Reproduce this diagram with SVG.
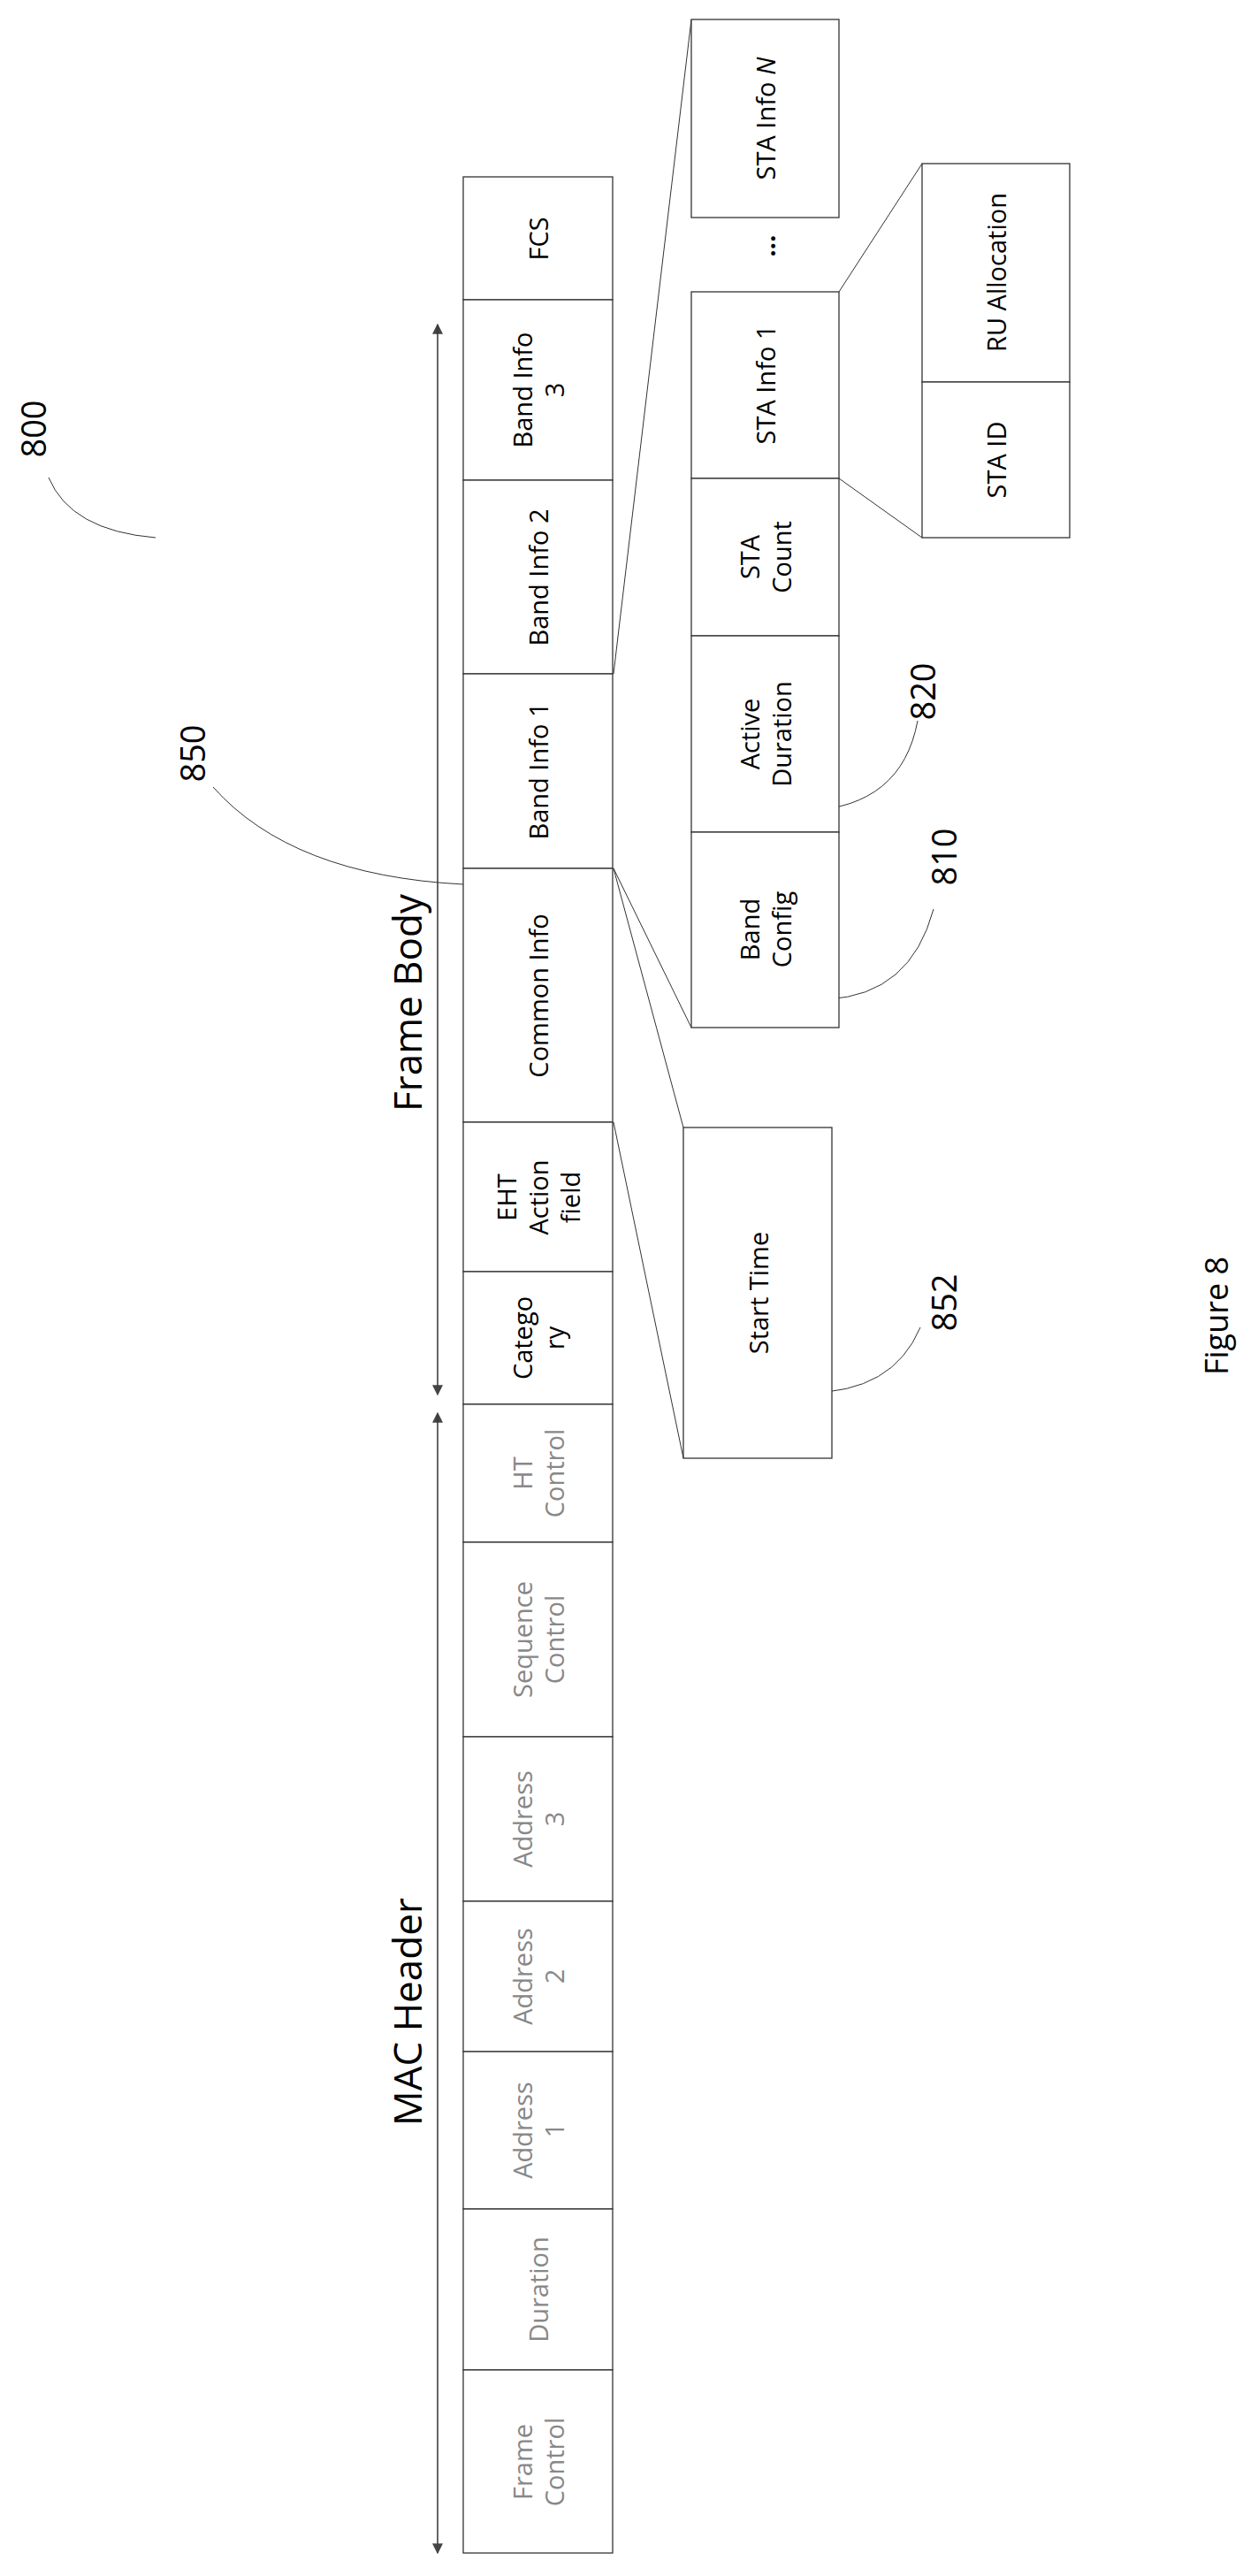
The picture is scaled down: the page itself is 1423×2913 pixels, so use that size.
<svg xmlns="http://www.w3.org/2000/svg" width="1423" height="2913" viewBox="0 0 1423 2913">
<style>
rect.c{fill:#fff;stroke:#333;stroke-width:1.3}
line.l,path.l{fill:none;stroke:#333;stroke-width:1}
text{font-family:"Open Sans","Liberation Sans",sans-serif;text-anchor:middle;dominant-baseline:central}
.f{font-size:29px;fill:#000}
.g{font-size:29px;fill:#888}
.big{font-size:44px;fill:#000}
.num{font-size:38px;fill:#000}
</style>
<defs>
<marker id="ah" viewBox="0 0 10 10" refX="9" refY="5" markerWidth="12" markerHeight="12" markerUnits="userSpaceOnUse" orient="auto"><path d="M0,0 L10,5 L0,10 z" fill="#444"/></marker>
</defs>
<rect width="1423" height="2913" fill="#fff"/>
<g id="connectors">
<line class="l" x1="495" y1="1575" x2="495" y2="367" marker-end="url(#ah)"/>
<line class="l" x1="495" y1="367" x2="495" y2="1577" marker-end="url(#ah)"/>
<line class="l" x1="495" y1="2887" x2="495" y2="1598" marker-end="url(#ah)"/>
<line class="l" x1="495" y1="1600" x2="495" y2="2887" marker-end="url(#ah)"/>
<line class="l" x1="694" y1="762" x2="782" y2="22"/>
<line class="l" x1="694" y1="982" x2="782" y2="1162"/>
<line class="l" x1="949" y1="330" x2="1043" y2="185"/>
<line class="l" x1="949" y1="541" x2="1043" y2="608"/>
<line class="l" x1="694" y1="982" x2="773" y2="1275"/>
<line class="l" x1="694" y1="1269" x2="773" y2="1649"/>
<path class="l" d="M55,540 Q80,600 176,608"/>
<path class="l" d="M241,890 Q330,990 524,1000"/>
<path class="l" d="M1041,1501 Q1010,1575 913,1575"/>
<path class="l" d="M1056,1028 Q1030,1125 936,1130"/>
<path class="l" d="M1038,815 Q1020,912 913,917"/>
</g>
<g id="labels">
<text class="big" transform="rotate(-90 460 1134)" x="460" y="1134">Frame Body</text>
<text class="big" transform="rotate(-90 460 2275)" x="460" y="2275">MAC Header</text>
<text class="num" transform="rotate(-90 37 485)" x="37" y="485">800</text>
<text class="num" transform="rotate(-90 217 852)" x="217" y="852">850</text>
<text class="num" transform="rotate(-90 1067 1473)" x="1067" y="1473">852</text>
<text class="num" transform="rotate(-90 1067 969)" x="1067" y="969">810</text>
<text class="num" transform="rotate(-90 1043 782)" x="1043" y="782">820</text>
<text class="big" style="font-size:36px" transform="rotate(-90 1375 1488)" x="1375" y="1488">Figure 8</text>
</g>
<g id="fcs"><rect class="c" x="524" y="200" width="169" height="139"/><text class="f" transform="rotate(-90 608 270)" x="608" y="270">FCS</text></g>
<g id="bi3"><rect class="c" x="524" y="339" width="169" height="204"/><text class="f" transform="rotate(-90 608 441)" x="608" y="441"><tspan x="608" dy="-18">Band Info</tspan><tspan x="608" dy="36">3</tspan></text></g>
<g id="bi2"><rect class="c" x="524" y="543" width="169" height="219"/><text class="f" transform="rotate(-90 608 653)" x="608" y="653">Band Info 2</text></g>
<g id="bi1"><rect class="c" x="524" y="762" width="169" height="220"/><text class="f" transform="rotate(-90 608 872)" x="608" y="872">Band Info 1</text></g>
<g id="ci"><rect class="c" x="524" y="982" width="169" height="287"/><text class="f" transform="rotate(-90 608 1126)" x="608" y="1126">Common Info</text></g>
<g id="eht"><rect class="c" x="524" y="1269" width="169" height="169"/><text class="f" transform="rotate(-90 608 1354)" x="608" y="1354"><tspan x="608" dy="-36">EHT</tspan><tspan x="608" dy="36">Action</tspan><tspan x="608" dy="36">field</tspan></text></g>
<g id="cat"><rect class="c" x="524" y="1438" width="169" height="150"/><text class="f" transform="rotate(-90 608 1513)" x="608" y="1513"><tspan x="608" dy="-18">Catego</tspan><tspan x="608" dy="36">ry</tspan></text></g>
<g id="ht"><rect class="c" x="524" y="1588" width="169" height="156"/><text class="g" transform="rotate(-90 608 1666)" x="608" y="1666"><tspan x="608" dy="-18">HT</tspan><tspan x="608" dy="36">Control</tspan></text></g>
<g id="seq"><rect class="c" x="524" y="1744" width="169" height="220"/><text class="g" transform="rotate(-90 608 1854)" x="608" y="1854"><tspan x="608" dy="-18">Sequence</tspan><tspan x="608" dy="36">Control</tspan></text></g>
<g id="a3"><rect class="c" x="524" y="1964" width="169" height="186"/><text class="g" transform="rotate(-90 608 2057)" x="608" y="2057"><tspan x="608" dy="-18">Address</tspan><tspan x="608" dy="36">3</tspan></text></g>
<g id="a2"><rect class="c" x="524" y="2150" width="169" height="170"/><text class="g" transform="rotate(-90 608 2235)" x="608" y="2235"><tspan x="608" dy="-18">Address</tspan><tspan x="608" dy="36">2</tspan></text></g>
<g id="a1"><rect class="c" x="524" y="2320" width="169" height="178"/><text class="g" transform="rotate(-90 608 2409)" x="608" y="2409"><tspan x="608" dy="-18">Address</tspan><tspan x="608" dy="36">1</tspan></text></g>
<g id="dur"><rect class="c" x="524" y="2498" width="169" height="182"/><text class="g" transform="rotate(-90 608 2589)" x="608" y="2589">Duration</text></g>
<g id="fc"><rect class="c" x="524" y="2680" width="169" height="207"/><text class="g" transform="rotate(-90 608 2784)" x="608" y="2784"><tspan x="608" dy="-18">Frame</tspan><tspan x="608" dy="36">Control</tspan></text></g>
<g id="stan"><rect class="c" x="782" y="22" width="167" height="224"/><text class="f" transform="rotate(-90 865 134)" x="865" y="134">STA Info <tspan font-style="italic">N</tspan></text></g>
<g id="dots"><text class="f" style="font-weight:bold" transform="rotate(-90 865 278)" x="865" y="278">...</text></g>
<g id="sta1"><rect class="c" x="782" y="330" width="167" height="211"/><text class="f" transform="rotate(-90 865 435)" x="865" y="435">STA Info 1</text></g>
<g id="stac"><rect class="c" x="782" y="541" width="167" height="178"/><text class="f" transform="rotate(-90 865 630)" x="865" y="630"><tspan x="865" dy="-18">STA</tspan><tspan x="865" dy="36">Count</tspan></text></g>
<g id="ad"><rect class="c" x="782" y="719" width="167" height="222"/><text class="f" transform="rotate(-90 865 830)" x="865" y="830"><tspan x="865" dy="-18">Active</tspan><tspan x="865" dy="36">Duration</tspan></text></g>
<g id="bc"><rect class="c" x="782" y="941" width="167" height="221"/><text class="f" transform="rotate(-90 865 1051)" x="865" y="1051"><tspan x="865" dy="-18">Band</tspan><tspan x="865" dy="36">Config</tspan></text></g>
<g id="ru"><rect class="c" x="1043" y="185" width="167" height="247"/><text class="f" transform="rotate(-90 1126 308)" x="1126" y="308">RU Allocation</text></g>
<g id="staid"><rect class="c" x="1043" y="432" width="167" height="176"/><text class="f" transform="rotate(-90 1126 520)" x="1126" y="520">STA ID</text></g>
<g id="st"><rect class="c" x="773" y="1275" width="168" height="374"/><text class="f" transform="rotate(-90 857 1462)" x="857" y="1462">Start Time</text></g>
</svg>
